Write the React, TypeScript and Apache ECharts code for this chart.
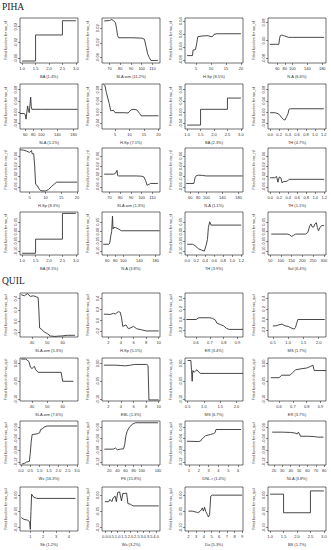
import React, { useEffect, useRef } from "react";
import * as echarts from "echarts";

// ---------- labels ----------
const titleTop = "PIHA";
const titleBottom = "QUIL";
const yNameTop = "Fitted function for ras_nf";
const yNameBottom = "Fitted function for ras_quil";

const pihaNames = [
  "BA (1.4%)", "SLA.wm (11.2%)", "H.Sp (8.5%)", "N.A (6.6%)",
  "SLA (1.1%)", "H.Sp (7.1%)", "BA (2.3%)", "TH (4.7%)",
  "H.Sp (8.3%)", "SLA.wm (1.3%)", "N.A (1.1%)", "TH (1.1%)",
  "BA (8.1%)", "N.A (3.8%)", "TH (3.9%)", "Sal (6.4%)",
];
const quilNames = [
  "SLA.wm (5.3%)", "H.Sp (5.1%)", "ER (3.4%)", "MS (1.7%)",
  "SLA.wm (7.6%)", "EBL (1.3%)", "MS (6.7%)", "ER (3.7%)",
  "Ws (16.3%)", "FS (15.8%)", "DNL.r (1.4%)", "NLA (3.8%)",
  "Sb (1.2%)", "Ws (3.2%)", "Da (5.3%)", "BS (1.7%)",
];

// ---------- tick values ----------
const tStep13 = [1.0, 1.5, 2.0, 2.5, 3.0];
const tSla = [70, 80, 90, 100, 110];
const t5to20 = [5, 10, 15, 20];
const tNa = [60, 80, 100, 140, 180];
const t0to12 = [0, 0.2, 0.4, 0.6, 0.8, 1.0, 1.2];
const tSal = [50, 100, 150, 200, 250, 300];
const t40to60 = [40, 50, 60];
const t2to10 = [2, 4, 6, 8, 10];
const t06to09 = [0.6, 0.7, 0.8, 0.9];
const t05to20 = [0.5, 1.0, 1.5, 2.0];
const t0to3 = [0, 0.5, 1.0, 1.5, 2.0, 2.5, 3.0];
const tFs = [20, 40, 60, 80, 100, 140];
const t1to6 = [1, 2, 3, 4, 5, 6];
const tNla = [20, 30, 40, 50, 60, 70, 80];
const t1to4 = [1, 2, 3, 4];
const t0to4 = [0, 0.5, 1.0, 1.5, 2.0, 2.5, 3.0, 3.5, 4.0];
const t2to9 = [2, 3, 4, 5, 6, 7, 8, 9];

const yA = [-0.06, -0.02, 0.02];
const yB = [-0.08, -0.04, 0.0, 0.04];
const yC = [-0.08, 0.0, 0.08];
const yD = [-0.04, 0.0, 0.04, 0.08];
const yE = [-0.06, -0.02, 0.02, 0.06];
const yF = [-0.1, -0.05, 0.0, 0.05];
const yG = [-0.2, 0.0, 0.2, 0.4];
const yH = [-0.1, -0.05, 0.0];
const yI = [-0.12, -0.08, -0.04, 0.0];

// ---------- PIHA series ----------
const p01 = [[1, -0.067], [1.5, -0.067], [1.5, -0.001], [2.5, -0.001], [2.5, 0.035], [3, 0.035]];
const p02 = [[65, 0.04], [70, 0.041], [72, 0.044], [74, 0.04], [75.5, 0.035], [76.5, 0.02], [77.5, 0.0], [78.5, -0.006], [90, -0.006], [100, -0.007], [102.5, -0.01], [104, -0.03], [105.5, -0.05], [107, -0.06], [108.5, -0.068], [115, -0.068]];
const p03 = [[2, -0.067], [3.8, -0.067], [4.0, -0.05], [4.8, -0.048], [5.2, -0.03], [5.6, -0.008], [7, -0.006], [9, -0.005], [10, -0.008], [10.5, -0.008], [11, -0.001], [12, 0.001], [20, 0.001]];
const p04 = [[40, -0.017], [55, -0.017], [64, -0.017], [66, 0.01], [68, 0.022], [72, 0.024], [76, 0.022], [80, 0.02], [90, 0.014], [100, 0.014], [185, 0.014]];
const p05 = [[47, -0.005], [58, -0.005], [60, -0.01], [62, -0.025], [64, 0.0], [66, 0.022], [68, 0.005], [70, -0.002], [72, 0.03], [73.5, 0.053], [75, 0.02], [76.5, 0.01], [100, 0.01], [190, 0.01]];
const p06 = [[1, 0.098], [1.5, 0.095], [2, 0.07], [2.5, 0.05], [3, 0.03], [3.5, 0.005], [4.5, 0.006], [5, -0.002], [8, -0.002], [9.5, -0.003], [10.5, 0.008], [11.5, 0.01], [12.5, 0.008], [13.5, -0.005], [14, -0.013], [20, -0.013]];
const p07 = [[1, -0.046], [1.5, -0.046], [1.5, 0.01], [2.5, 0.01], [2.5, 0.05], [3, 0.05]];
const p08 = [[0, -0.002], [0.1, -0.002], [0.15, -0.004], [0.2, -0.008], [0.25, -0.018], [0.3, -0.027], [0.33, -0.028], [0.37, -0.015], [0.4, -0.005], [0.42, 0.01], [0.45, 0.012], [1.2, 0.012]];
const p09 = [[2, 0.083], [3, 0.082], [4, 0.078], [5, 0.073], [5.6, 0.08], [5.8, 0.068], [6.3, 0.068], [6.6, 0.02], [6.9, -0.05], [7.4, -0.055], [8, -0.068], [8.5, -0.075], [10, -0.076], [11, -0.07], [12, -0.058], [13.5, -0.042], [20, -0.042]];
const p10 = [[65, -0.011], [74, -0.011], [75.5, -0.008], [77, 0.004], [77.5, -0.016], [78.5, -0.018], [95, -0.018], [100, -0.019], [102, -0.022], [103.5, -0.035], [105, -0.054], [107, -0.05], [108, -0.047], [115, -0.047]];
const p11 = [[50, -0.047], [69, -0.047], [70, -0.04], [72, -0.025], [75, -0.017], [80, -0.015], [90, -0.016], [100, -0.018], [190, -0.018]];
const p12 = [[0, -0.025], [0.1, -0.025], [0.14, -0.02], [0.17, -0.042], [0.2, -0.022], [0.24, -0.026], [0.26, -0.044], [0.3, -0.04], [0.38, -0.038], [0.42, -0.031], [1.2, -0.031]];
const p13 = [[1, -0.111], [1.5, -0.111], [1.5, -0.039], [2.5, -0.039], [2.5, 0.093], [3, 0.093]];
const p14 = [[50, -0.065], [64, -0.065], [66, -0.06], [69, -0.02], [71, 0.0], [73, 0.079], [74.5, 0.013], [76, 0.02], [80, 0.021], [88, 0.013], [95, 0.004], [190, 0.004]];
const p15 = [[0, -0.065], [0.12, -0.065], [0.17, -0.072], [0.25, -0.088], [0.32, -0.095], [0.38, -0.1], [0.42, -0.07], [0.45, -0.04], [0.47, 0.02], [0.5, 0.05], [0.53, 0.033], [1.2, 0.033]];
const p16 = [[55, -0.013], [130, -0.013], [140, -0.016], [150, -0.025], [158, -0.02], [168, -0.013], [215, -0.013], [225, -0.005], [235, 0.03], [240, 0.039], [245, 0.025], [252, 0.022], [258, 0.038], [265, 0.045], [270, 0.02], [275, 0.004], [282, 0.02], [290, 0.031], [300, 0.031]];

// ---------- QUIL series ----------
const q01 = [[33, 0.47], [35, 0.45], [37, 0.488], [39, 0.44], [41, 0.45], [43, 0.43], [44, 0.42], [44.5, 0.2], [45, -0.12], [46.5, -0.15], [48, -0.19], [50, -0.22], [52, -0.262], [55, -0.27], [57, -0.265], [60, -0.26], [63, -0.25], [68, -0.25]];
const q02 = [[1.3, 0.116], [2.3, 0.11], [2.8, 0.13], [3.1, 0.12], [3.6, 0.16], [3.9, 0.15], [4.1, 0.05], [4.3, -0.108], [4.8, -0.08], [5.2, -0.15], [5.6, -0.13], [6, -0.108], [6.5, -0.15], [7.3, -0.17], [8, -0.19], [10, -0.19]];
const q03 = [[0.53, 0.0], [0.6, 0.0], [0.62, 0.033], [0.7, 0.033], [0.72, 0.02], [0.74, -0.01], [0.75, -0.067], [0.78, -0.1], [0.8, -0.12], [0.82, -0.167], [0.84, -0.187], [0.94, -0.187]];
const q04 = [[0.5, -0.12], [0.6, -0.12], [0.7, -0.1], [0.8, -0.087], [0.9, -0.12], [1.0, -0.13], [1.1, -0.16], [1.2, -0.18], [1.24, -0.15], [1.28, -0.07], [1.32, 0.0], [2.2, 0.0]];
const q05 = [[33, 0.012], [36, 0.012], [38, 0.005], [39, -0.01], [40, -0.015], [41.5, -0.008], [42.5, -0.018], [44, -0.025], [59, -0.025], [60, -0.05], [67, -0.05]];
const q06 = [[1.3, -0.005], [3, -0.005], [4, -0.006], [4.7, -0.007], [5.5, -0.005], [6.2, -0.003], [8.1, -0.003], [8.3, -0.006], [8.45, -0.102], [10, -0.102]];
const q07 = [[0.5, 0.008], [0.6, 0.008], [0.62, -0.02], [0.64, -0.05], [0.66, -0.02], [0.7, -0.025], [0.75, -0.02], [0.79, -0.018], [0.85, -0.025], [0.9, -0.028], [2.2, -0.028]];
const q08 = [[0.54, -0.04], [0.6, -0.04], [0.62, -0.033], [0.68, -0.033], [0.7, -0.025], [0.72, -0.018], [0.76, -0.015], [0.8, -0.013], [0.83, -0.008], [0.845, -0.005], [0.855, -0.02], [0.94, -0.02]];
const q09 = [[0.05, -0.127], [0.2, -0.124], [0.3, -0.12], [0.45, -0.118], [0.5, -0.09], [0.55, -0.05], [0.6, -0.026], [0.75, -0.025], [0.9, -0.023], [1.0, -0.02], [1.05, -0.009], [1.15, -0.007], [1.25, 0.0], [1.4, 0.003], [3.0, 0.003]];
const q10 = [[8, -0.076], [30, -0.076], [35, -0.072], [40, -0.078], [47, -0.076], [55, -0.075], [58, -0.06], [61, -0.03], [64, -0.015], [70, 0.0], [78, 0.01], [85, 0.014], [140, 0.014]];
const q11 = [[0.8, -0.049], [2.0, -0.05], [2.2, -0.048], [2.35, -0.04], [2.5, -0.036], [2.7, -0.03], [3.2, -0.026], [3.5, -0.023], [3.65, -0.02], [3.75, -0.009], [6.3, -0.009]];
const q12 = [[18, -0.018], [30, -0.018], [40, -0.019], [45, -0.021], [48, -0.024], [49, -0.018], [50.5, -0.024], [51.5, -0.032], [60, -0.032], [68, -0.033], [72, -0.035], [79, -0.035]];
const q13 = [[0.3, -0.069], [0.5, -0.074], [0.8, -0.077], [0.95, -0.082], [1.0, -0.105], [1.05, -0.05], [1.1, 0.003], [1.25, -0.006], [1.5, -0.01], [4.5, -0.01]];
const q14 = [[0, -0.02], [0.3, -0.02], [0.4, -0.013], [0.55, -0.02], [0.65, -0.008], [0.8, -0.003], [0.9, -0.02], [1.0, 0.008], [1.15, 0.01], [1.3, -0.018], [1.4, 0.005], [1.7, 0.006], [1.8, -0.026], [2.0, -0.028], [2.2, -0.033], [4.2, -0.033]];
const q15 = [[2, -0.049], [2.5, -0.049], [3, -0.052], [3.2, -0.054], [3.5, -0.05], [3.7, -0.044], [3.8, -0.039], [3.95, -0.049], [4.1, -0.037], [4.25, -0.05], [4.45, -0.059], [4.6, -0.067], [4.75, -0.06], [4.9, -0.003], [5.1, 0.0], [9, 0.0]];
const q16 = [[1, 0.003], [1.5, 0.003], [1.5, -0.054], [2.5, -0.054], [2.5, 0.013], [3, 0.013]];

// ---------- panel table (ranges) ----------
type Panel = { name: string; yName: string; xr: number[]; xt: number[]; yr: number[]; yt: number[]; pts: number[][] };

const pihaSeries = [p01, p02, p03, p04, p05, p06, p07, p08, p09, p10, p11, p12, p13, p14, p15, p16];
const pihaXr = [[0.92, 3.08], [63, 117], [1.3, 20.7], [35, 190], [47, 191], [0.5, 20.5], [0.92, 3.08], [-0.05, 1.25], [1.96, 20.3], [63, 117], [47, 191], [-0.05, 1.24], [0.92, 3.08], [47, 191], [-0.05, 1.24], [40, 310]];
const pihaXt = [tStep13, tSla, t5to20, tNa, tNa, t5to20, tStep13, t0to12, t5to20, tSla, tNa, t0to12, tStep13, tNa, t0to12, tSal];
const pihaYr = [[-0.072, 0.042], [-0.075, 0.048], [-0.09, 0.05], [-0.1, 0.1], [-0.06, 0.1], [-0.06, 0.1], [-0.06, 0.1], [-0.06, 0.1], [-0.08, 0.09], [-0.08, 0.09], [-0.08, 0.09], [-0.08, 0.09], [-0.12, 0.1], [-0.12, 0.1], [-0.12, 0.1], [-0.12, 0.1]];
const pihaYt = [yA, yA, yB, yC, yD, yD, yD, yD, yE, yE, yE, yE, yF, yF, yF, yF];

const quilSeries = [q01, q02, q03, q04, q05, q06, q07, q08, q09, q10, q11, q12, q13, q14, q15, q16];
const quilXr = [[32.2, 70], [1, 10.2], [0.52, 0.94], [0.34, 2.24], [32.2, 70], [1, 10.2], [0.42, 2.2], [0.52, 0.94], [-0.05, 3.05], [2, 145], [0.6, 6.5], [13, 82], [0.2, 4.7], [-0.22, 4.3], [1.55, 9.1], [0.92, 3.08]];
const quilXt = [t40to60, t2to10, t06to09, t05to20, t40to60, t2to10, t05to20, t06to09, t0to3, tFs, t1to6, tNla, t1to4, t0to4, t2to9, tStep13];
const quilYr = [[-0.28, 0.5], [-0.3, 0.5], [-0.33, 0.5], [-0.33, 0.5], [-0.105, 0.015], [-0.105, 0.015], [-0.105, 0.015], [-0.105, 0.015], [-0.13, 0.02], [-0.13, 0.02], [-0.13, 0.02], [-0.13, 0.02], [-0.11, 0.025], [-0.11, 0.025], [-0.11, 0.025], [-0.11, 0.025]];
const quilYt = [yG, yG, yG, yG, yH, yH, yH, yH, yI, yI, yI, yI, yH, yH, yH, yH];

const panels: Panel[] = [
  ...pihaSeries.map((pts, i) => ({ name: pihaNames[i], yName: yNameTop, xr: pihaXr[i], xt: pihaXt[i], yr: pihaYr[i], yt: pihaYt[i], pts })),
  ...quilSeries.map((pts, i) => ({ name: quilNames[i], yName: yNameBottom, xr: quilXr[i], xt: quilXt[i], yr: quilYr[i], yt: quilYt[i], pts })),
];

// ---------- layout ----------
const COL_LEFT = [20, 102, 185, 268];
const PANEL_W = 58;
const ROW_TOP = [18, 84, 148, 212, 293, 358, 421, 487];
const ROW_H = [45, 45, 44, 43, 44, 43, 44, 44];

const SANS = "Liberation Sans, Arial, sans-serif";
const SERIF = "Liberation Serif, Times New Roman, serif";

function decimals(arr: number[]) {
  let d = 0;
  for (const v of arr) {
    const s = String(v);
    const i = s.indexOf(".");
    if (i >= 0) d = Math.max(d, s.length - i - 1);
  }
  return d;
}

export default function App() {
  const ref = useRef<HTMLDivElement>(null);
  useEffect(() => {
    document.body.style.margin = "0";
    if (!ref.current) return;
    const chart = echarts.init(ref.current, undefined, { renderer: "svg" });
    const grid: any[] = [];
    const xAxis: any[] = [];
    const yAxis: any[] = [];
    const series: any[] = [];
    panels.forEach((p, i) => {
      const col = i % 4;
      const row = Math.floor(i / 4);
      grid.push({
        left: COL_LEFT[col], top: ROW_TOP[row], width: PANEL_W, height: ROW_H[row],
        show: true, borderColor: "#111", borderWidth: 0.6, backgroundColor: "transparent",
      });
      const dx = decimals(p.xt);
      const dy = decimals(p.yt);
      xAxis.push({
        gridIndex: i, type: "value", min: p.xr[0], max: p.xr[1], position: "bottom",
        name: p.name, nameLocation: "middle", nameGap: 11,
        nameTextStyle: { fontSize: 4, color: "#333", fontFamily: SANS },
        axisLine: { show: false, onZero: false }, splitLine: { show: false },
        axisTick: { show: true, length: 2, inside: false, lineStyle: { color: "#111", width: 0.5 }, customValues: p.xt },
        axisLabel: { fontSize: 4, margin: 3, color: "#333", fontFamily: SANS, customValues: p.xt, formatter: (v: number) => v.toFixed(dx) },
      });
      yAxis.push({
        gridIndex: i, type: "value", min: p.yr[0], max: p.yr[1], position: "left",
        name: p.yName, nameLocation: "middle", nameGap: 12, nameRotate: 90,
        nameTextStyle: { fontSize: 3.6, color: "#333", fontFamily: SANS },
        axisLine: { show: false, onZero: false }, splitLine: { show: false },
        axisTick: { show: true, length: 2, lineStyle: { color: "#111", width: 0.5 }, customValues: p.yt },
        axisLabel: { fontSize: 4, margin: 3, rotate: 90, color: "#333", fontFamily: SANS, customValues: p.yt, formatter: (v: number) => v.toFixed(dy) },
      });
      series.push({
        type: "line", xAxisIndex: i, yAxisIndex: i, data: p.pts,
        symbol: "none", showSymbol: false, clip: true,
        lineStyle: { color: "#333333", width: 0.9 },
      });
    });
    chart.setOption({
      animation: false,
      backgroundColor: "#ffffff",
      title: [
        { text: titleTop, left: 2, top: 2, padding: 0, textStyle: { fontFamily: SERIF, fontSize: 9.5, fontWeight: "normal", color: "#222" } },
        { text: titleBottom, left: 2, top: 276, padding: 0, textStyle: { fontFamily: SERIF, fontSize: 9.5, fontWeight: "normal", color: "#222" } },
      ],
      grid, xAxis, yAxis, series,
    });
    return () => chart.dispose();
  }, []);
  return <div ref={ref} style={{ position: "absolute", left: 0, top: 0, width: 331, height: 550 }} />;
}
